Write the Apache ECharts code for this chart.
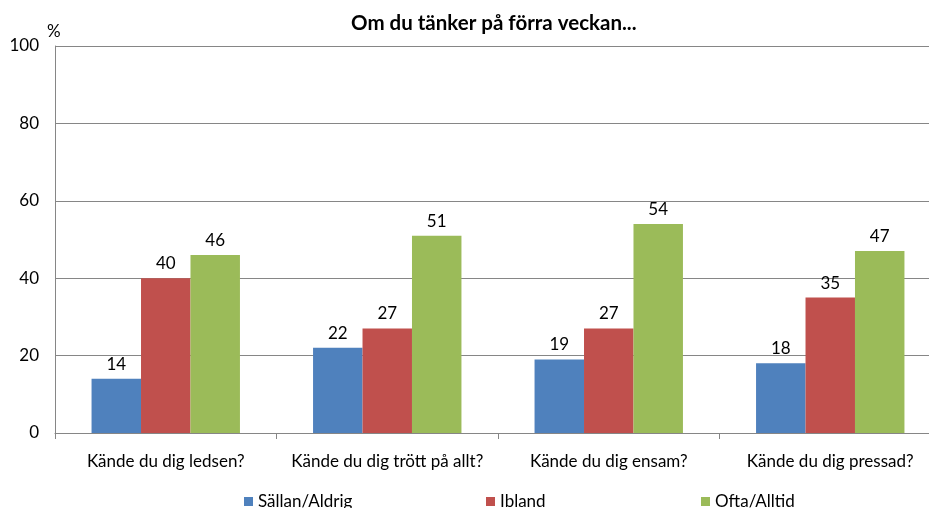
<!DOCTYPE html>
<html>
<head>
<meta charset="utf-8">
<script src="https://cdn.jsdelivr.net/npm/echarts@6/dist/echarts.min.js"></script>
<style>
  html, body { margin: 0; padding: 0; background: #fff; overflow: hidden; }
  #main { width: 941px; height: 508px; }
</style>
</head>
<body>
<div id="main"></div>
<script>
// data
var categories = ['Kände du dig ledsen?', 'Kände du dig trött på allt?', 'Kände du dig ensam?', 'Kände du dig pressad?'];
var sallan = [14, 22, 19, 18];
var ibland = [40, 27, 27, 35];
var ofta = [46, 51, 54, 47];
var seriesNames = ['Sällan/Aldrig', 'Ibland', 'Ofta/Alltid'];

var font = 'Lato, "Open Sans", sans-serif';
var chart = echarts.init(document.getElementById('main'));

function legendAt(name, left) {
  return {
    data: [name],
    left: left,
    top: 488,
    icon: 'rect',
    itemWidth: 9,
    itemHeight: 9,
    itemGap: 4,
    textStyle: { fontFamily: font, fontSize: 17, color: '#000', padding: [0, 0, 0, 0] }
  };
}

var option = {
  animation: false,
  color: ['#4f81bd', '#c0504d', '#9bbb59'],
  title: {
    text: 'Om du tänker på förra veckan...',
    left: 346,
    top: 8,
    textStyle: { fontFamily: font, fontSize: 20.5, fontWeight: 'bold', color: '#000' }
  },
  legend: [legendAt(seriesNames[0], 239), legendAt(seriesNames[1], 481), legendAt(seriesNames[2], 696)],
  grid: { left: 55, right: 0, top: 46, bottom: 75 },
  xAxis: {
    type: 'category',
    data: categories,
    axisLine: { lineStyle: { color: '#868686' } },
    axisTick: { show: true, length: 6, lineStyle: { color: '#868686' } },
    axisLabel: { interval: 0, fontFamily: font, fontSize: 17, color: '#000', margin: 20 }
  },
  yAxis: {
    type: 'value',
    min: 0,
    max: 100,
    interval: 20,
    name: '%',
    nameLocation: 'end',
    nameGap: 6,
    nameTextStyle: { fontFamily: font, fontSize: 17, color: '#000', align: 'left', padding: [0, 0, 0, -8] },
    axisLine: { show: true, lineStyle: { color: '#868686' } },
    axisTick: { show: false },
    axisLabel: { fontFamily: font, fontSize: 17, color: '#000', margin: 16 },
    splitLine: { lineStyle: { color: '#868686' } }
  },
  series: [
    { name: seriesNames[0], type: 'bar', data: sallan },
    { name: seriesNames[1], type: 'bar', data: ibland },
    { name: seriesNames[2], type: 'bar', data: ofta }
  ].map(function (s) {
    s.barGap = '0%';
    s.barCategoryGap = '33%';
    s.label = { show: true, position: 'top', distance: 6, fontFamily: font, fontSize: 17, color: '#000' };
    return s;
  })
};

chart.setOption(option);
</script>
</body>
</html>
